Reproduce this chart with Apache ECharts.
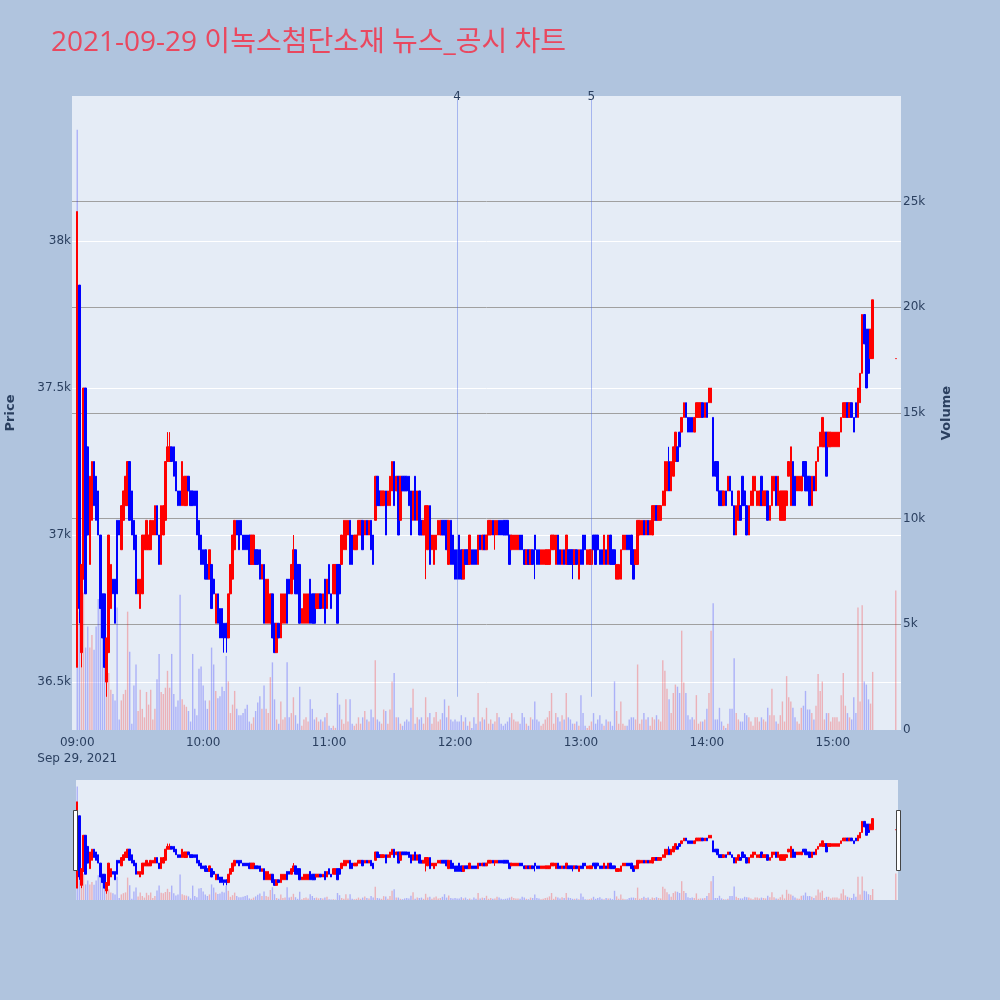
<!DOCTYPE html>
<html><head><meta charset="utf-8">
<script src="https://cdn.jsdelivr.net/npm/echarts@6/dist/echarts.min.js"></script>
<style>html,body{margin:0;padding:0;background:#b0c4de;}#chart{width:1000px;height:1000px;}</style>
</head><body><div id="chart"></div>
<script>
// ---- data (minute index m = minutes after 09:00) ----
const openP = [
36550,37850,36600,36850,37500,37300,36900,37050,37250,37200,
37150,37000,36800,36800,36500,36600,36750,36850,36850,37050,
37050,36950,37050,37100,37100,37250,37150,37050,37000,36800,
36750,36800,36950,36950,36950,36950,37000,37000,37100,37000,
36900,37000,37050,37250,37250,37300,37300,37250,37150,37150,
37100,37100,37100,37200,37150,37150,37150,37150,37050,37000,
36950,36950,36900,36850,36900,36850,36700,36800,36750,36750,
36700,36700,36650,36800,36850,36950,37050,37050,37050,37000,
37000,37000,37000,36900,36900,36950,36950,36950,36850,36900,
36700,36700,36700,36800,36700,36600,36700,36650,36700,36700,
36850,36850,36800,36850,36950,36900,36900,36700,36700,36700,
36700,36850,36800,36800,36750,36750,36800,36750,36850,36750,
36900,36800,36800,36800,36900,36900,36900,36950,36950,37000,
37050,37000,36950,36950,37000,37000,37050,37000,37050,37000,
37050,37000,37050,37200,37150,37100,37100,37150,37100,37100,
37150,37250,37150,37200,37050,37200,37200,37200,37200,37150,
37050,37200,37050,37150,37050,37000,37000,36950,37100,36950,
36900,36950,37000,37000,37050,37050,37050,36900,37050,37000,
36950,36950,37000,36950,36850,36950,36950,36900,36950,36950,
36950,36900,37000,36950,37000,36950,37000,37000,37050,37000,
37000,37050,37050,37050,37050,37050,37000,36950,36950,36950,
36950,37000,37000,36950,36900,36950,36900,36950,37000,36950,
36950,36900,36900,36900,36900,36900,36950,36950,36900,37000,
36950,36900,36950,36900,36950,36950,36950,36900,36950,36850,
36950,37000,37000,36900,36900,36900,37000,37000,37000,36950,
36950,36900,36950,36900,37000,36950,36950,36850,36850,36850,
36950,36950,37000,37000,37000,36950,36900,36900,37000,37000,
37050,37000,37050,37000,37000,37050,37100,37050,37050,37100,
37100,37150,37250,37150,37200,37250,37300,37350,37350,37400,
37450,37400,37400,37400,37350,37400,37400,37400,37450,37400,
37450,37450,37450,37400,37250,37250,37150,37150,37100,37150,
37150,37200,37150,37100,37000,37050,37100,37200,37150,37100,
37000,37100,37100,37150,37100,37100,37200,37100,37100,37150,
37050,37100,37150,37200,37100,37050,37050,37050,37100,37200,
37100,37250,37200,37150,37150,37150,37250,37250,37200,37200,
37100,37200,37150,37250,37300,37300,37300,37350,37300,37300,
37300,37300,37300,37300,37350,37400,37400,37450,37400,37450,
37400,37450,37400,37450,37550,37750,37700,37700,37600,37600,
null,null,null,null,null,null,null,null,null,null,
37600];
const closeP = [
38100,36750,36900,37500,36800,37000,37200,37250,37100,37050,
37000,36750,36650,36550,36650,37000,36900,36800,36700,36800,
37000,37100,37150,37200,37250,37050,37000,36950,36800,36850,
36850,37000,37000,37050,37000,37050,37050,37100,37000,36900,
37100,37100,37250,37300,37300,37250,37200,37150,37100,37100,
37250,37200,37200,37150,37100,37100,37100,37000,36950,36900,
36900,36850,36850,36950,36750,36800,36800,36700,36650,36650,
36650,36650,36800,36900,37000,37050,37000,36950,37000,36950,
36950,36950,36900,37000,37000,36900,36900,36850,36900,36700,
36850,36850,36800,36650,36600,36700,36650,36800,36800,36800,
36700,36800,36900,36950,36800,36800,36700,36750,36800,36800,
36800,36700,36700,36700,36800,36800,36750,36800,36700,36850,
36800,36750,36900,36900,36700,36800,37000,37050,37050,37050,
36900,36900,37000,37000,37050,37050,36950,37050,37000,37050,
36950,36900,37200,37100,37100,37150,37150,37000,37150,37200,
37250,37100,37200,37000,37200,37150,37150,37150,37100,37000,
37150,37050,37150,37000,37000,37050,37100,37100,36900,37000,
37000,37000,37050,37050,37000,37000,36950,37050,36900,36900,
36850,36850,36850,36850,36950,36900,36900,37000,36900,36900,
36900,37000,36950,37000,36950,37000,37050,37050,37000,37050,
37050,37000,37000,37000,37000,37000,36900,37000,37000,37000,
37000,36950,36950,36900,36950,36900,36950,36900,36950,36900,
36900,36950,36950,36950,36950,36950,37000,37000,37000,36900,
36900,36950,36900,37000,36900,36900,36900,36950,36900,36950,
36900,36900,36950,36950,36950,36950,36950,36900,36950,36900,
36900,37000,36900,37000,36900,36900,36900,36900,36900,36950,
37000,37000,36950,36950,36900,36850,36950,37050,37050,37050,
37000,37050,37000,37050,37100,37100,37050,37100,37100,37150,
37250,37250,37150,37250,37300,37350,37250,37300,37400,37450,
37400,37350,37350,37350,37400,37450,37450,37450,37400,37450,
37400,37500,37500,37200,37200,37150,37100,37100,37150,37100,
37200,37150,37100,37000,37100,37150,37050,37100,37100,37000,
37100,37150,37200,37200,37150,37150,37100,37150,37150,37050,
37100,37200,37200,37100,37200,37150,37150,37150,37150,37250,
37300,37100,37100,37200,37200,37200,37200,37150,37150,37100,
37200,37150,37250,37300,37350,37400,37350,37200,37350,37350,
37350,37350,37350,37350,37400,37450,37450,37400,37450,37400,
37350,37400,37500,37550,37750,37650,37500,37550,37700,37800,
null,null,null,null,null,null,null,null,null,null,
37600];
const highWicks = [[0,38100],[43,37350],[44,37350],[103,37000],[150,37250],[282,37300]];
const lowWicks = [[1,36700],[2,36550],[14,36450],[70,36600],[71,36600],[166,36850],[199,36950],[218,36850],[236,36850]];
const volume = [
28400,5600,3900,6500,3900,4900,3900,4500,3800,4900,
6200,6800,5600,5200,2600,2700,1900,1700,1400,5800,
500,1400,1700,1900,5600,3700,300,2100,3100,900,
1900,1000,600,1800,1200,1900,500,1000,2400,3600,
1800,1700,2000,2800,2000,3600,1700,1100,1400,6400,
1450,1200,1100,900,400,3600,1000,700,2900,3000,
2100,1400,1000,1400,3900,3100,1850,1500,1600,2050,
1850,3500,2300,800,1200,1850,1000,700,700,800,
1000,1200,400,300,600,900,1300,1600,1000,2100,
1000,800,2500,3200,1450,500,300,1350,500,600,
3200,600,800,1550,700,300,2050,200,500,600,
400,1450,1000,500,600,400,500,400,600,800,
200,100,200,100,1750,1200,500,300,1450,400,
1450,300,200,300,600,300,600,900,500,400,
970,600,3300,500,400,300,970,900,300,970,
2300,2700,600,600,300,200,400,500,400,1050,
1950,300,600,500,600,300,1550,600,800,300,
600,850,400,500,800,1450,600,1150,500,400,
500,400,400,700,400,600,200,400,100,600,
300,1750,400,600,500,1050,300,500,300,400,
800,600,300,200,300,400,600,800,500,400,
400,300,800,600,300,200,600,500,1350,500,
400,200,300,500,600,900,1750,300,800,600,
400,700,500,1750,600,500,300,300,400,200,
1650,800,200,100,200,400,800,300,500,700,
300,200,500,400,400,200,2300,900,300,1350,
300,200,200,500,600,600,500,3100,300,500,
800,500,600,200,600,500,700,500,400,3300,
2800,1950,1450,800,1750,2150,2050,1750,4700,2250,
1750,700,500,600,500,1650,300,400,400,500,
1000,1750,4700,6000,500,500,1050,400,200,100,
300,1000,1000,3400,800,500,400,400,800,700,
600,400,200,600,600,400,600,500,400,1050,
700,1950,700,400,300,700,1350,400,2550,1550,
1350,1050,600,400,300,1050,1150,1850,970,970,
800,500,1150,2650,1850,2300,500,800,800,400,
600,600,600,400,1650,2700,1150,800,600,500,
1550,800,5800,1350,5900,2300,2150,1450,1250,2750,
null,null,null,null,null,null,null,null,null,null,
6600];
const newsMarks = [['12:01','4'],['13:05','5']];
const titleText = '2021-09-29 이녹스첨단소재 뉴스_공시 차트';
const dateLabel = 'Sep 29, 2021';

// ---- categories: 08:58 .. 15:32 (axis padding on both sides) ----
const pad = 2;
const cats = [];
for (let i = 0; i < 395; i++) {
  const t = 8 * 60 + 58 + i;
  cats.push(String(Math.floor(t / 60)).padStart(2, '0') + ':' + String(t % 60).padStart(2, '0'));
}
const hiMap = Object.fromEntries(highWicks), loMap = Object.fromEntries(lowWicks);
const candleData = cats.map((c, i) => {
  const m = i - pad;
  if (m < 0 || m >= openP.length || openP[m] == null) return '-';
  const o = openP[m], cl = closeP[m];
  const lo = Math.min(o, cl, loMap[m] != null ? loMap[m] : Infinity);
  const hi = Math.max(o, cl, hiMap[m] != null ? hiMap[m] : -Infinity);
  return [o, cl, lo, hi];
});
const UP = '#ff0000', DOWN = '#0000ff';
const volData = cats.map((c, i) => {
  const m = i - pad;
  if (m < 0 || m >= volume.length || volume[m] == null) return '-';
  const up = m === 0 ? false : closeP[m] >= openP[m];
  return { value: volume[m], itemStyle: { color: up ? 'rgba(255,0,0,0.25)' : 'rgba(0,0,255,0.25)' } };
});

const FONT = '"DejaVu Sans", Verdana, sans-serif';
const TXT = '#2a3f5f';
const PMIN = 36337, PMAX = 38493;

const chart = echarts.init(document.getElementById('chart'), null, { renderer: 'canvas' });
const candleStyle = { color: UP, color0: DOWN, borderColor: UP, borderColor0: DOWN, borderColorDoji: UP, borderWidth: 1 };
chart.setOption({
  animation: false,
  backgroundColor: '#b0c4de',
  title: {
    text: titleText, left: 51, top: 29, padding: 0,
    textStyle: { fontFamily: '"Open Sans", "Noto Sans CJK KR", sans-serif', fontSize: 28, fontWeight: 'normal', color: '#e9485f' }
  },
  grid: [
    { left: 72, top: 96, width: 829, height: 634, show: true, backgroundColor: '#e5ecf6', borderWidth: 0, containLabel: false, outerBoundsMode: 'none' },
    { left: 72, top: 780, width: 829, height: 120, show: false, containLabel: false, outerBoundsMode: 'none' }
  ],
  xAxis: [
    { type: 'category', gridIndex: 0, data: cats, boundaryGap: true,
      axisLine: { show: false }, axisTick: { show: false }, splitLine: { show: false },
      axisLabel: { interval: (idx, v) => v.endsWith(':00'), margin: 5, color: TXT, fontFamily: FONT, fontSize: 12, lineHeight: 16,
        formatter: v => v === '09:00' ? v + '\n' + dateLabel : v } },
    { type: 'category', gridIndex: 1, data: cats, boundaryGap: true, show: false }
  ],
  yAxis: [
    { type: 'value', gridIndex: 0, position: 'left', min: PMIN, max: PMAX, scale: true,
      axisLine: { show: false }, axisTick: { show: false },
      splitLine: { show: true, showMinLine: false, showMaxLine: false, lineStyle: { color: '#ffffff', width: 1 } },
      axisLabel: { showMinLabel: false, showMaxLabel: false, margin: 1, color: TXT, fontFamily: FONT, fontSize: 12,
        formatter: v => (v / 1000) + 'k' },
      name: 'Price', nameLocation: 'middle', nameRotate: 90, nameGap: 55,
      nameTextStyle: { color: TXT, fontFamily: FONT, fontSize: 13, fontWeight: 'bold' } },
    { type: 'value', gridIndex: 0, position: 'right', min: 0, max: 30000, interval: 5000,
      axisLine: { show: false }, axisTick: { show: false },
      splitLine: { show: true, showMinLine: false, showMaxLine: false, lineStyle: { color: '#a0a0a0', width: 1 } },
      axisLabel: { showMaxLabel: false, margin: 2, color: TXT, fontFamily: FONT, fontSize: 12,
        formatter: v => v === 0 ? '0' : (v / 1000) + 'k' },
      name: 'Volume', nameLocation: 'middle', nameRotate: 90, nameGap: 39,
      nameTextStyle: { color: TXT, fontFamily: FONT, fontSize: 13, fontWeight: 'bold' } },
    { type: 'value', gridIndex: 1, min: PMIN, max: PMAX, show: false },
    { type: 'value', gridIndex: 1, min: 0, max: 30000, show: false }
  ],
  graphic: [
    { type: 'rect', z: -1, shape: { x: 76, y: 780, width: 822, height: 120 }, style: { fill: '#e5ecf6' } },
    { type: 'rect', z: 100, shape: { x: 73.5, y: 810.5, width: 4, height: 60 }, style: { fill: '#ffffff', stroke: '#444', lineWidth: 1 } },
    { type: 'rect', z: 100, shape: { x: 896.5, y: 810.5, width: 4, height: 60 }, style: { fill: '#ffffff', stroke: '#444', lineWidth: 1 } }
  ],
  series: [
    { type: 'bar', name: 'vol', xAxisIndex: 0, yAxisIndex: 1, data: volData, barWidth: 1.4, z: 1 },
    { type: 'candlestick', name: 'price', xAxisIndex: 0, yAxisIndex: 0, data: candleData, barWidth: 2, z: 3,
      itemStyle: candleStyle,
      markLine: {
        silent: true, symbol: ['none', 'none'], animation: false,
        lineStyle: { color: 'rgba(70,100,230,0.4)', width: 1, type: 'solid' },
        label: { show: true, position: 'end', formatter: '{b}', distance: -3, color: TXT, fontFamily: FONT, fontSize: 12 },
        data: newsMarks.map(([t, lab]) => [{ coord: [t, 36450], name: lab }, { coord: [t, 38480] }])
      } },
    { type: 'bar', name: 'vol2', xAxisIndex: 1, yAxisIndex: 3, data: volData, barWidth: 1.4, z: 1 },
    { type: 'candlestick', name: 'price2', xAxisIndex: 1, yAxisIndex: 2, data: candleData, barWidth: 2, z: 3,
      itemStyle: candleStyle }
  ]
});
</script></body></html>
